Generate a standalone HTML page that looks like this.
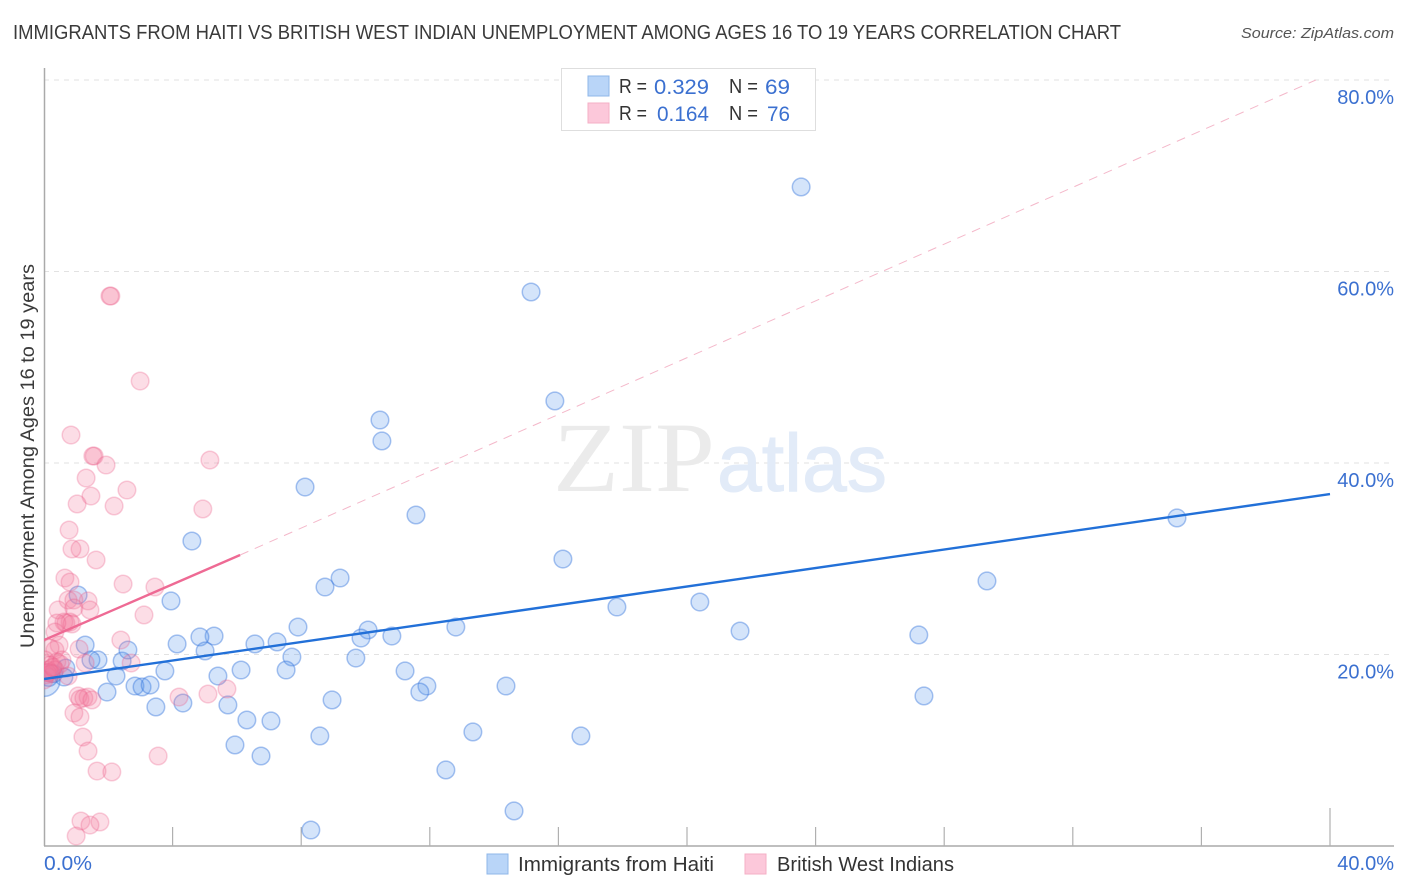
<!DOCTYPE html>
<html lang="en">
<head>
<meta charset="utf-8">
<title>Immigrants from Haiti vs British West Indian Unemployment Correlation Chart</title>
<style>
html,body{margin:0;padding:0;background:#fff;width:1406px;height:892px;overflow:hidden}
svg{display:block;font-family:"Liberation Sans",sans-serif}
</style>
</head>
<body>
<svg id="chart" xmlns="http://www.w3.org/2000/svg" width="1406" height="892" viewBox="0 0 1406 892">
  <defs><clipPath id="plot-clip"><rect x="44" y="68" width="1350" height="778"/></clipPath></defs>
  <text x="13" y="39" font-size="20" fill="#3a3a3a" textLength="1108" lengthAdjust="spacingAndGlyphs">IMMIGRANTS FROM HAITI VS BRITISH WEST INDIAN UNEMPLOYMENT AMONG AGES 16 TO 19 YEARS CORRELATION CHART</text>
  <text x="1241" y="38" font-size="15" font-style="italic" fill="#555" textLength="153" lengthAdjust="spacingAndGlyphs">Source: ZipAtlas.com</text>
  <g id="grid"></g>
  <g>
    <text x="553" y="491" font-family="'Liberation Serif',serif" font-size="100" fill="#ebebeb" textLength="162" lengthAdjust="spacingAndGlyphs">ZIP</text>
    <text x="717" y="491" font-size="82" fill="#e2ebf8" stroke="#e2ebf8" stroke-width="1" textLength="170" lengthAdjust="spacingAndGlyphs">atlas</text>
  </g>
  <g id="axes"></g>
  <g id="marks" clip-path="url(#plot-clip)"></g>
  <text transform="translate(34,456) rotate(-90)" font-size="19" fill="#3a3a3a" text-anchor="middle" textLength="384" lengthAdjust="spacingAndGlyphs">Unemployment Among Ages 16 to 19 years</text>

  <g>
    <rect x="561.5" y="68.5" width="254" height="62" fill="#fff" stroke="#dedede"/>
    <rect x="588" y="76" width="21" height="20" fill="#b9d5f8" stroke="#8fb7e8"/>
    <rect x="588" y="103" width="21" height="20" fill="#fcc8da" stroke="#f4afc6"/>
    <g font-size="20" fill="#333">
      <text x="619" y="93" textLength="28" lengthAdjust="spacingAndGlyphs">R =</text>
      <text x="729" y="93" textLength="29" lengthAdjust="spacingAndGlyphs">N =</text>
      <text x="619" y="120" textLength="28" lengthAdjust="spacingAndGlyphs">R =</text>
      <text x="729" y="120" textLength="29" lengthAdjust="spacingAndGlyphs">N =</text>
    </g>
    <g font-size="21" fill="#3b70d0">
      <text x="654" y="94" textLength="55" lengthAdjust="spacingAndGlyphs">0.329</text>
      <text x="765" y="94" textLength="25" lengthAdjust="spacingAndGlyphs">69</text>
      <text x="657" y="121" textLength="52" lengthAdjust="spacingAndGlyphs">0.164</text>
      <text x="767" y="121" textLength="23" lengthAdjust="spacingAndGlyphs">76</text>
    </g>
  </g>

  <g>
    <rect x="487" y="854" width="21" height="20" fill="#b9d5f8" stroke="#8fb7e8"/>
    <text x="518" y="871" font-size="20" fill="#333" textLength="196" lengthAdjust="spacingAndGlyphs">Immigrants from Haiti</text>
    <rect x="745" y="854" width="21" height="20" fill="#fcc8da" stroke="#f4afc6"/>
    <text x="777" y="871" font-size="20" fill="#333" textLength="177" lengthAdjust="spacingAndGlyphs">British West Indians</text>
  </g>
</svg>
<script>
const yTicks = [20, 40, 60, 80];
const xMinorTicks = [4, 8, 12, 16, 20, 24, 28, 32, 36, 40];
const xEdgeLabels = [0, 40];

const haitiX = [23.55,15.15,15.89,10.45,10.51,8.12,11.57,35.24,4.60,16.14,9.21,8.74,29.33,3.95,20.40,17.82,1.06,7.90,10.08,12.81,21.65,27.21,10.82,9.86,5.29,4.85,4.14,1.28,5.01,6.56,7.25,7.71,9.70,1.68,1.46,2.43,2.61,3.76,6.13,7.53,11.23,2.24,0.68,5.41,0.62,11.91,11.69,14.37,2.83,3.05,3.30,1.96,8.96,27.37,4.32,3.48,5.72,6.31,7.06,8.58,13.34,16.70,5.94,6.75,12.50,14.62,8.30,0.30,0.15];
const haitiY = [68.83,57.86,46.48,44.49,42.30,37.49,34.57,34.26,31.85,29.97,27.99,27.05,27.68,25.59,25.48,24.96,26.21,22.87,22.56,22.87,22.45,22.04,21.93,21.72,21.93,21.83,21.10,20.99,20.37,21.10,21.31,19.74,19.63,19.43,19.43,19.32,20.47,18.28,18.38,18.38,18.28,17.75,18.59,17.75,17.65,16.71,16.08,16.71,16.71,16.61,16.81,16.08,15.25,15.67,14.93,14.52,14.73,13.16,13.06,11.49,11.91,11.49,10.55,9.40,7.94,3.66,1.67,18.00,17.60];
const haitiBubbleX = [0];
const haitiBubbleY = [17.3];

const britishX = [2.08,2.05,2.99,0.84,1.56,1.52,1.93,5.16,1.31,2.58,1.46,1.03,2.18,4.94,0.78,1.12,0.87,1.62,0.65,0.81,2.46,3.45,0.75,1.37,0.93,0.44,0.93,1.43,3.11,0.62,0.81,0.68,0.87,0.40,0.34,2.39,0.47,1.09,0.34,0.19,0.56,2.71,1.28,0.03,0.19,0.40,0.50,0.12,0.25,0.34,0.06,0.16,0.00,0.75,1.06,1.37,1.12,1.24,1.49,4.20,5.10,5.69,0.93,1.12,1.21,1.37,3.55,1.65,2.11,1.15,1.74,1.43,1.00,0.10,0.22,0.28];
const britishY = [57.44,57.44,48.56,42.92,40.73,40.73,39.79,40.31,38.43,37.18,36.55,35.72,35.51,35.20,33.00,31.02,31.02,29.87,27.99,27.57,27.36,27.05,25.69,25.59,25.69,24.65,24.86,24.65,24.13,23.39,23.39,23.29,23.19,23.29,22.35,21.51,20.99,20.57,20.47,20.68,19.43,19.11,19.11,19.43,18.90,19.22,19.01,18.38,18.59,18.38,17.86,18.17,17.34,17.75,15.67,15.56,15.35,15.46,15.25,15.56,15.87,16.40,13.89,13.47,11.38,9.92,9.40,7.83,7.73,2.61,2.51,2.19,1.04,18.10,18.00,18.70];

const haitiTrendX = [0, 40];
const haitiTrendY = [17.44, 36.76];
const britishTrendSolidX = [0, 6.1];
const britishTrendSolidY = [21.51, 30.39];
const britishTrendDashX = [6.1, 39.56];
const britishTrendDashY = [30.39, 80];

const SVG_NS = 'http://www.w3.org/2000/svg';
const xScale = v => 44 + v * 32.15;
const yScale = v => 846 - v * 9.575;

function make(tag, parent, attrs, text) {
  const el = document.createElementNS(SVG_NS, tag);
  for (const k in attrs) el.setAttribute(k, attrs[k]);
  if (text !== undefined) el.textContent = text;
  parent.appendChild(el);
  return el;
}

const grid = document.getElementById('grid');
const axes = document.getElementById('axes');
const marks = document.getElementById('marks');

yTicks.forEach(t => {
  const line = make('line', grid, {x1: 44, x2: 1394, y1: yScale(t), y2: yScale(t), stroke: '#e2e2e2', 'stroke-width': 1, 'stroke-dasharray': '5 5'});
  
  
  const label = make('text', axes, {x: 1394, y: yScale(t) + 24, 'font-size': 20, fill: '#3b70d0', 'text-anchor': 'end'}, t.toFixed(1) + '%');
  
  
});

const yAxis = make('line', axes, {x1: 44.5, x2: 44.5, y1: 68, y2: 846, stroke: '#aaa', 'stroke-width': 1.5});


const xAxis = make('line', axes, {x1: 44, x2: 1394, y1: 846, y2: 846, stroke: '#aaa', 'stroke-width': 1.5});



xMinorTicks.forEach((t, i) => {
  const top = i === xMinorTicks.length - 1 ? 808 : 827;
  const tick = make('line', axes, {x1: xScale(t), x2: xScale(t), y1: top, y2: 846, stroke: '#b0b0b0', 'stroke-width': 1.2});
  
  
});

xEdgeLabels.forEach((t, i) => {
  const attrs = i === 0
    ? {x: xScale(t), y: 870, 'font-size': 20, fill: '#3b70d0', textLength: 48, lengthAdjust: 'spacingAndGlyphs'}
    : {x: 1394, y: 870, 'font-size': 20, fill: '#3b70d0', 'text-anchor': 'end'};
  const label = make('text', axes, attrs, t.toFixed(1) + '%');
  
  
});

const haitiBubble = make('circle', marks, {cx: xScale(haitiBubbleX[0]), cy: yScale(haitiBubbleY[0]), r: 16, fill: 'rgba(90,150,235,0.26)', stroke: 'rgba(50,115,220,0.42)', 'stroke-width': 1.5});



haitiX.forEach((x, i) => {
  const c = make('circle', marks, {cx: xScale(x), cy: yScale(haitiY[i]), r: 8.8, fill: 'rgba(90,150,235,0.26)', stroke: 'rgba(50,115,220,0.42)', 'stroke-width': 1.5});
  
  
});

britishX.forEach((x, i) => {
  const c = make('circle', marks, {cx: xScale(x), cy: yScale(britishY[i]), r: 8.8, fill: 'rgba(245,125,160,0.26)', stroke: 'rgba(235,95,140,0.3)', 'stroke-width': 1.5});
  
  
});

const dash = make('line', marks, {x1: xScale(britishTrendDashX[0]), y1: yScale(britishTrendDashY[0]), x2: xScale(britishTrendDashX[1]), y2: yScale(britishTrendDashY[1]), stroke: '#f4b8ca', 'stroke-width': 1, 'stroke-dasharray': '9 7'});



const solid = make('line', marks, {x1: xScale(britishTrendSolidX[0]), y1: yScale(britishTrendSolidY[0]), x2: xScale(britishTrendSolidX[1]), y2: yScale(britishTrendSolidY[1]), stroke: '#ee6a94', 'stroke-width': 2.4});



const blueLine = make('line', marks, {x1: xScale(haitiTrendX[0]), y1: yScale(haitiTrendY[0]), x2: xScale(haitiTrendX[1]), y2: yScale(haitiTrendY[1]), stroke: '#2270d8', 'stroke-width': 2.4});


</script>
</body>
</html>
